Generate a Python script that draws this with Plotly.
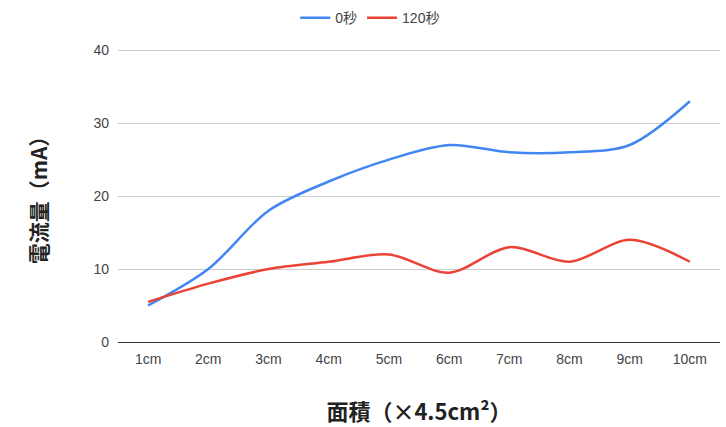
import plotly.graph_objects as go

categories = ["1cm", "2cm", "3cm", "4cm", "5cm", "6cm", "7cm", "8cm", "9cm", "10cm"]
current_0s = [5, 10, 18, 22, 25, 27, 26, 26, 27, 33]
current_120s = [5.5, 8, 10, 11, 12, 9.5, 13, 11, 14, 11]
y_ticks = [0, 10, 20, 30, 40]

fig = go.Figure()
fig.add_trace(go.Scatter(
    x=categories, y=current_0s, name="0秒", mode="lines",
    line=dict(color="#4285f4", width=2.5, shape="spline", smoothing=0.9),
))
fig.add_trace(go.Scatter(
    x=categories, y=current_120s, name="120秒", mode="lines",
    line=dict(color="#ea4335", width=2.5, shape="spline", smoothing=0.9),
))

fig.update_layout(
    width=726, height=427,
    margin=dict(l=118, r=6, t=48, b=85),
    paper_bgcolor="white", plot_bgcolor="white",
    font=dict(family="Liberation Sans, Arial, Noto Sans CJK JP", color="#444444", size=14),
    showlegend=True,
    legend=dict(orientation="h", x=0.51, xanchor="center", xref="container",
                y=0.995, yanchor="top", yref="container", itemwidth=30,
                font=dict(size=14, color="#444444")),
    xaxis=dict(
        type="category", range=[-0.5, 9.5], showgrid=False,
        showline=True, linecolor="#333333", linewidth=1,
        ticks="", tickfont=dict(size=14, color="#444444"), ticklabelstandoff=4,
        title=dict(text="<b>面積（×4.5cm²）</b>", font=dict(size=22, color="#222222",
                   family="Noto Sans CJK JP, Liberation Sans"), standoff=38),
    ),
    yaxis=dict(
        range=[0, 40.3], tickvals=y_ticks, showgrid=True, gridcolor="#cccccc",
        zeroline=True, zerolinecolor="#333333", zerolinewidth=1,
        ticks="", tickfont=dict(size=14, color="#444444"), ticklabelstandoff=8,
        title=dict(text="<b>電流量（mA）</b>", font=dict(size=21, color="#222222",
                   family="Noto Sans CJK JP, Liberation Sans"), standoff=40),
    ),
)

fig.write_html("out.html")
